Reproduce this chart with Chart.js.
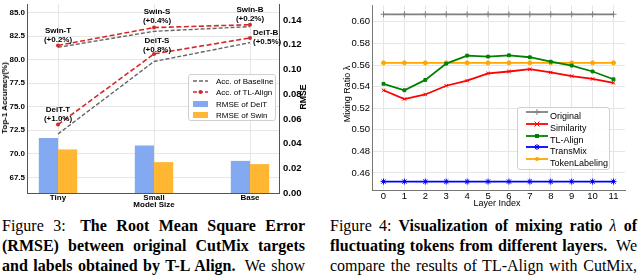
<!DOCTYPE html>
<html><head><meta charset="utf-8">
<script src="https://cdn.jsdelivr.net/npm/chart.js@4"></script>
<style>
html,body{margin:0;padding:0;background:#fff;width:640px;height:278px;overflow:hidden;}
#wrap{position:relative;width:640px;height:278px;overflow:hidden;}
canvas{position:absolute;top:0;}
.t{position:absolute;font-family:"Liberation Sans",Arial,sans-serif;color:#000;white-space:nowrap;line-height:1;transform:translate(-50%,-50%);}
.rot{transform:translate(-50%,-50%) rotate(-90deg);}
.cap{position:absolute;font-family:"Liberation Serif","Times New Roman",serif;font-size:16px;line-height:20.3px;color:#000;}
.cap div{text-align:justify;text-align-last:justify;height:20.3px;white-space:nowrap;}
.cap div.last{text-align-last:left;}
.lg{position:absolute;border:1px solid #d0d0d0;border-radius:3px;background:rgba(255,255,255,0.85);box-sizing:border-box;}
.li{position:absolute;font-family:"Liberation Sans",Arial,sans-serif;white-space:nowrap;line-height:1;color:#000;}
.li svg{position:absolute;top:-4px;}
</style></head>
<body><div id="wrap">
<canvas id="c1" width="320" height="210" style="left:0"></canvas>
<canvas id="c2" width="320" height="210" style="left:320px"></canvas>

<div class="t rot" style="left:5px;top:98px;font-size:8px;font-weight:bold;">Top-1 Accuracy(%)</div>
<div class="t rot" style="left:303px;top:97px;font-size:8.7px;font-weight:bold;">RMSE</div>
<div class="t" style="left:154px;top:205px;font-size:8px;font-weight:bold;">Model Size</div>
<div class="t rot" style="left:347px;top:94px;font-size:9px;">Mixing Ratio λ</div>
<div class="t" style="left:497px;top:203px;font-size:9px;">Layer Index</div>

<div id="lg1" class="lg" style="left:188px;top:74px;width:88px;height:47px;"></div>
<div id="lg2" class="lg" style="left:517px;top:107px;width:93px;height:63px;"></div>

<div class="cap" style="left:2px;top:215.5px;width:303px;">
<div>Figure 3:<span style="display:inline-block;width:5px"></span> <b>The Root Mean Square Error</b></div>
<div><b>(RMSE) between original CutMix targets</b></div>
<div><b>and labels obtained by T-L Align.</b><span style="display:inline-block;width:4px"></span> We show</div>
<div class="last">results on variants of DeiT and Swin.</div>
</div>
<div class="cap" style="left:330px;top:215.5px;width:307px;">
<div>Figure 4: <b>Visualization of mixing ratio <span style="font-weight:normal;font-style:italic">λ</span> of</b></div>
<div><b>fluctuating tokens from different layers.</b><span style="display:inline-block;width:4px"></span> We</div>
<div>compare the results of TL-Align with CutMix,</div>
<div>token similarity, TransMix, and TokenLabeling.</div>
</div>
</div>
<script>
// ---------- Figure 3 data ----------
const categories = ['Tiny', 'Small', 'Base'];
const deitBaseline = [72.1, 79.8, 81.8];
const deitTLAlign = [73.1, 80.6, 82.3];
const swinBaseline = [81.3, 83.0, 83.5];
const swinTLAlign = [81.5, 83.4, 83.7];
const rmseDeit = [0.0445, 0.0385, 0.0260];
const rmseSwin = [0.0353, 0.0250, 0.0234];
const accTicks = [67.5, 70.0, 72.5, 75.0, 77.5, 80.0, 82.5, 85.0];
const rmseTicks = [0.00, 0.02, 0.04, 0.06, 0.08, 0.10, 0.12, 0.14];
const deitNotes = ['DeiT-T\n(+1.0%)', 'DeiT-S\n(+0.8%)', 'DeiT-B\n(+0.5%)'];
const swinNotes = ['Swin-T\n(+0.2%)', 'Swin-S\n(+0.4%)', 'Swin-B\n(+0.2%)'];

// ---------- Figure 4 data ----------
const layers = [0,1,2,3,4,5,6,7,8,9,10,11];
const original = [0.607,0.607,0.607,0.607,0.607,0.607,0.607,0.607,0.607,0.607,0.607,0.607];
const similarity = [0.5366,0.5285,0.5327,0.5408,0.5456,0.5522,0.5540,0.5561,0.5531,0.5498,0.5471,0.5435];
const tlAlign = [0.5426,0.5366,0.5462,0.5613,0.5687,0.5678,0.5690,0.5672,0.5631,0.5595,0.5540,0.5468];
const transMix = [0.452,0.452,0.452,0.452,0.452,0.452,0.452,0.452,0.452,0.452,0.452,0.452];
const tokenLabeling = [0.562,0.562,0.562,0.562,0.562,0.562,0.562,0.562,0.562,0.562,0.562,0.562];
const ratioTicks = [0.46, 0.48, 0.50, 0.52, 0.54, 0.56, 0.58, 0.60];

const FF = '"Liberation Sans", Arial, sans-serif';
const pts = (arr, xs) => arr.map((v, i) => ({x: xs ? xs[i] : i, y: v}));
const GRID = '#e6e6e6';

// annotation style (offsets in px, not data)
const noteStyle = [
  {series: deitTLAlign, notes: deitNotes, dx: [0, 3, 3], dy: [-15, -13, -5], align: ['center','center','left']},
  {series: swinTLAlign, notes: swinNotes, dx: [0, 3, 0], dy: [-15, -16, -15], align: ['center','center','center']}
];
const notePlugin = {
  id: 'notes',
  afterDatasetsDraw(chart) {
    const {ctx, scales} = chart;
    ctx.save();
    ctx.font = 'bold 8px ' + FF;
    ctx.fillStyle = '#000';
    ctx.textBaseline = 'middle';
    noteStyle.forEach(st => {
      st.notes.forEach((txt, i) => {
        const x = scales.x.getPixelForValue(i) + st.dx[i];
        const y = scales.yAcc.getPixelForValue(st.series[i]) + st.dy[i];
        ctx.textAlign = st.align[i];
        txt.split('\n').forEach((ln, k) => ctx.fillText(ln, x, y + k * 9));
      });
    });
    ctx.restore();
  }
};

const fixY = (w) => (s) => { s.width = w; s.paddingTop = 0; s.paddingBottom = 0; };
const fixX = (h) => (s) => { s.height = h; s.paddingLeft = 0; s.paddingRight = 0; };

new Chart(document.getElementById('c1'), {
  type: 'bar',
  data: { datasets: [
    {type:'line', label:'Acc. of Baseline', data: pts(deitBaseline), yAxisID:'yAcc', borderColor:'#666', borderDash:[4,2], borderWidth:1.4, pointRadius:0, order:2},
    {type:'line', label:'Acc. of Baseline', data: pts(swinBaseline), yAxisID:'yAcc', borderColor:'#666', borderDash:[4,2], borderWidth:1.4, pointRadius:0, order:2},
    {type:'line', label:'Acc. of TL-Align', data: pts(deitTLAlign), yAxisID:'yAcc', borderColor:'#d62728', borderDash:[5,2.5], borderWidth:1.6, pointRadius:2, pointBackgroundColor:'#d62728', pointBorderWidth:0, order:1},
    {type:'line', label:'Acc. of TL-Align', data: pts(swinTLAlign), yAxisID:'yAcc', borderColor:'#d62728', borderDash:[5,2.5], borderWidth:1.6, pointRadius:2, pointBackgroundColor:'#d62728', pointBorderWidth:0, order:1},
    {type:'bar', label:'RMSE of DeiT', data: pts(rmseDeit), yAxisID:'yR', backgroundColor:'#83aaf0', borderWidth:0, categoryPercentage:0.4, barPercentage:1, order:5},
    {type:'bar', label:'RMSE of Swin', data: pts(rmseSwin), yAxisID:'yR', backgroundColor:'#ffb733', borderWidth:0, categoryPercentage:0.4, barPercentage:1, order:5}
  ]},
  options: {
    responsive:false, animation:false, devicePixelRatio:1,
    layout:{padding:0},
    plugins:{legend:{display:false}, tooltip:{enabled:false}},
    scales: {
      x: {type:'linear', min:-0.323, max:2.302, offset:false,
        afterBuildTicks: s => { s.ticks = categories.map((c, i) => ({value: i})); },
        ticks:{callback: v => categories[v], font:{family:FF, size:8, weight:'bold'}, color:'#000', padding:0, autoSkip:false, maxRotation:0},
        grid:{color:GRID, drawTicks:false, offset:false},
        border:{color:'#555'},
        afterFit: fixX(17)},
      yAcc: {type:'linear', position:'left', min:65.84, max:85.9,
        afterBuildTicks: s => { s.ticks = accTicks.map(v => ({value:v})); },
        ticks:{callback: v => v.toFixed(1), font:{family:FF, size:8, weight:'bold'}, color:'#000', padding:2},
        grid:{color:GRID, drawTicks:false},
        border:{color:'#555'},
        afterFit: fixY(27)},
      yR: {type:'linear', position:'right', min:0, max:0.153,
        afterBuildTicks: s => { s.ticks = rmseTicks.map(v => ({value:v})); },
        ticks:{callback: v => v.toFixed(2), font:{family:FF, size:9.5, weight:'bold'}, color:'#000', padding:4},
        grid:{display:false, drawTicks:false},
        border:{color:'#555'},
        afterFit: fixY(41)}
    }
  },
  plugins:[notePlugin]
});

const series4 = [
  {label:'Original', data: original, color:'#808080', style:'cross', r:3},
  {label:'Similarity', data: similarity, color:'#ff0000', style:'crossRot', r:2.5},
  {label:'TL-Align', data: tlAlign, color:'#008000', style:'rect', r:2},
  {label:'TransMix', data: transMix, color:'#0000ff', style:'star', r:3},
  {label:'TokenLabeling', data: tokenLabeling, color:'#ffa500', style:'circle', r:2}
];

new Chart(document.getElementById('c2'), {
  type: 'line',
  data: { datasets: series4.map(s => ({
    label:s.label, data: pts(s.data, layers), borderColor:s.color, backgroundColor:s.color,
    borderWidth:1.8, pointStyle:s.style, pointRadius:s.r, pointBorderColor:s.color, pointBackgroundColor:s.color, pointBorderWidth:1
  }))},
  options: {
    responsive:false, animation:false, devicePixelRatio:1,
    layout:{padding:{right:15, left:0, top:0, bottom:0}},
    plugins:{legend:{display:false}, tooltip:{enabled:false}},
    scales: {
      x: {type:'linear', min:-0.55, max:11.55,
        afterBuildTicks: s => { s.ticks = layers.map(v => ({value:v})); },
        ticks:{callback: v => String(v), font:{family:FF, size:9.5}, color:'#000', padding:1, autoSkip:false, maxRotation:0},
        grid:{color:GRID, drawTicks:false},
        border:{color:'#777'},
        afterFit: fixX(20)},
      y: {type:'linear', min:0.4442, max:0.6156,
        afterBuildTicks: s => { s.ticks = ratioTicks.map(v => ({value:v})); },
        ticks:{callback: v => v.toFixed(2), font:{family:FF, size:9.5}, color:'#000', padding:2},
        grid:{color:GRID, drawTicks:false},
        border:{color:'#777'},
        afterFit: fixY(52)}
    }
  }
});

// ---------- HTML legends ----------
function markerSvg(style, color, r) {
  const cx = 11, cy = 4;
  switch (style) {
    case 'cross': return `<line x1="${cx-r}" y1="${cy}" x2="${cx+r}" y2="${cy}" stroke="${color}" stroke-width="1"/><line x1="${cx}" y1="${cy-r}" x2="${cx}" y2="${cy+r}" stroke="${color}" stroke-width="1"/>`;
    case 'crossRot': return `<line x1="${cx-r}" y1="${cy-r}" x2="${cx+r}" y2="${cy+r}" stroke="${color}"/><line x1="${cx-r}" y1="${cy+r}" x2="${cx+r}" y2="${cy-r}" stroke="${color}"/>`;
    case 'rect': return `<rect x="${cx-r}" y="${cy-r}" width="${2*r}" height="${2*r}" fill="${color}"/>`;
    case 'star': return `<line x1="${cx-r}" y1="${cy}" x2="${cx+r}" y2="${cy}" stroke="${color}"/><line x1="${cx}" y1="${cy-r}" x2="${cx}" y2="${cy+r}" stroke="${color}"/><line x1="${cx-r*0.7}" y1="${cy-r*0.7}" x2="${cx+r*0.7}" y2="${cy+r*0.7}" stroke="${color}"/><line x1="${cx-r*0.7}" y1="${cy+r*0.7}" x2="${cx+r*0.7}" y2="${cy-r*0.7}" stroke="${color}"/>`;
    default: return `<circle cx="${cx}" cy="${cy}" r="${r}" fill="${color}"/>`;
  }
}
const lg2 = document.getElementById('lg2');
series4.forEach((s, i) => {
  const d = document.createElement('div');
  d.className = 'li';
  d.style.left = '8px'; d.style.top = (4 + i * 11.8) + 'px'; d.style.fontSize = '9px'; d.style.height='9px';
  d.innerHTML = `<svg width="22" height="8" style="left:0"><line x1="0" y1="4" x2="22" y2="4" stroke="${s.color}" stroke-width="1.8"/>${markerSvg(s.style, s.color, s.r)}</svg><span style="position:absolute;left:24px;top:0">${s.label}</span>`;
  lg2.appendChild(d);
});

const legend1 = [
  {label:'Acc. of Baseline', kind:'dash', color:'#666'},
  {label:'Acc. of TL-Align', kind:'dashdot', color:'#d62728'},
  {label:'RMSE of DeiT', kind:'box', color:'#83aaf0'},
  {label:'RMSE of Swin', kind:'box', color:'#ffb733'}
];
const lg1 = document.getElementById('lg1');
const lg1Y = [3, 13.5, 25.5, 37];
legend1.forEach((s, i) => {
  const d = document.createElement('div');
  d.className = 'li';
  d.style.left = '4px'; d.style.top = lg1Y[i] + 'px'; d.style.fontSize = '8px'; d.style.height='8px';
  let g;
  if (s.kind === 'box') g = `<rect x="0" y="1" width="15" height="6" fill="${s.color}"/>`;
  else g = `<line x1="0" y1="4" x2="15" y2="4" stroke="${s.color}" stroke-width="1.5" stroke-dasharray="4 2"/>` + (s.kind === 'dashdot' ? `<circle cx="7.5" cy="4" r="2" fill="${s.color}"/>` : '');
  d.innerHTML = `<svg width="16" height="8" style="left:0;top:-1px">${g}</svg><span style="position:absolute;left:23px;top:0">${s.label}</span>`;
  lg1.appendChild(d);
});
</script>
</body></html>
